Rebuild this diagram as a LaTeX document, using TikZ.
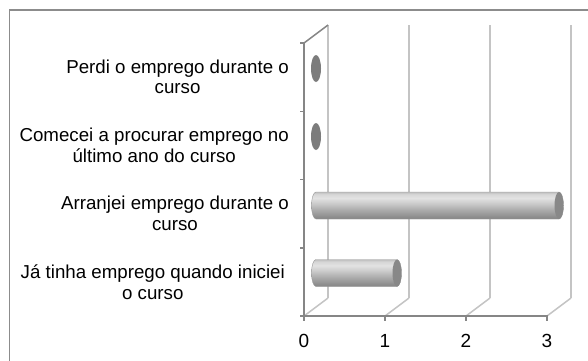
\documentclass[tikz,border=0pt]{standalone}
\usepackage{fontspec}
\setmainfont{Liberation Sans}
\definecolor{axisgray}{HTML}{868686}
\definecolor{gridgray}{HTML}{C4C4C4}
\definecolor{framegray}{HTML}{8C8C8C}
\definecolor{capgray}{HTML}{888888}
\definecolor{zerogray}{HTML}{7C7C7C}
\definecolor{edgegray}{HTML}{9A9A9A}
\definecolor{sA}{HTML}{858585}
\definecolor{sB}{HTML}{8F8F8F}
\definecolor{sC}{HTML}{ABABAB}
\definecolor{sD}{HTML}{D0D0D0}
\definecolor{sE}{HTML}{E2E2E2}
\definecolor{sF}{HTML}{D6D6D6}
\definecolor{sG}{HTML}{BEBEBE}
\pgfdeclareverticalshading{cylshade}{100bp}{color(0bp)=(sA); color(25bp)=(sA); color(30bp)=(sB); color(42bp)=(sC); color(56bp)=(sD); color(64bp)=(sE); color(71bp)=(sF); color(75bp)=(sG); color(100bp)=(sG)}
\newcommand\cylbar[3]{%
  \path[shading=cylshade, draw=edgegray, line width=0.4bp]
    (#1,#3-13.5) -- (#2,#3-13.5)
    arc[start angle=-90, end angle=90, x radius=4.5, y radius=13.5]
    -- (#1,#3+13.5)
    arc[start angle=90, end angle=270, x radius=4.5, y radius=13.5] -- cycle;
  \fill[capgray] (#2,#3) ellipse[x radius=4.5, y radius=13.5];
}
\begin{document}
\begin{tikzpicture}[x=1bp,y=-1bp,
  lbl/.style={align=center, inner sep=0pt, anchor=east, font=\fontsize{18.7bp}{20.5bp}\selectfont},
  ticklbl/.style={inner sep=0pt, font=\fontsize{19bp}{20bp}\selectfont},
  gridline/.style={gridgray, line width=1.5bp},
  axisline/.style={axisgray, line width=1.5bp}]
\useasboundingbox (0,0) rectangle (588,360);
\fill[white] (0,0) rectangle (588,360);
% frame
\draw[framegray, line width=1.5bp] (9.5,361) -- (9.5,10) -- (589,10);
% back wall gridlines
\foreach \x in {328,409,490,571} \draw[gridline] (\x,25) -- (\x,298);
\foreach \x in {385,466,547} \draw[gridline] (\x,316) -- (\x+24,298);
\draw[gridline] (304,316) -- (328,298);
% left wall
\draw[axisline] (304,43) -- (328,25);
\draw[axisline] (304,43) -- (304,316) -- (548,316);
\foreach \y in {43,111.25,179.5,247.75,316} \draw[axisline] (300,\y) -- (304,\y);
\foreach \x in {304,385,466,547} \draw[axisline] (\x,316) -- (\x,321);
% bars
\fill[zerogray] (316,68.5) ellipse[x radius=5, y radius=13.5];
\fill[zerogray] (316,136.5) ellipse[x radius=5, y radius=13.5];
\cylbar{316}{559}{205.5}
\cylbar{316}{397}{273}
% labels
\node[lbl] (l1) at (289,77) {Perdi o emprego durante o\\curso};
\node[lbl] (l2) at (289,145.5) {Comecei a procurar emprego no\\último ano do curso};
\node[lbl] (l3) at (289,213.5) {Arranjei emprego durante o\\curso};
\node[lbl] (l4) at (285,282) {Já tinha emprego quando iniciei\\o curso};
\node[ticklbl] (t0) at (304,341) {0};
\node[ticklbl] (t1) at (385,341) {1};
\node[ticklbl] (t2) at (466,341) {2};
\node[ticklbl] (t3) at (547,341) {3};
\end{tikzpicture}
\end{document}
